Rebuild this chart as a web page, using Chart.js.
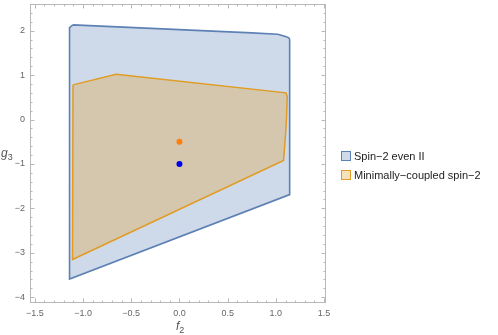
<!DOCTYPE html>
<html><head><meta charset="utf-8">
<script src="https://cdn.jsdelivr.net/npm/chart.js@4.4.0/dist/chart.umd.min.js"></script>
<style>
html,body{margin:0;padding:0;background:#fff;}
#wrap{position:relative;width:498px;height:335px;font-family:"Liberation Sans",Arial,sans-serif;}
canvas{position:absolute;left:0;top:0;}
.lab{position:absolute;font-style:italic;color:#555;font-size:12px;}
.lab sub{font-style:normal;font-size:9px;}
.leg{position:absolute;left:341px;font-size:11px;color:#222;white-space:nowrap;}
.leg span.sw{display:inline-block;width:8px;height:8px;vertical-align:-1px;margin-right:3px;}
</style></head>
<body><div id="wrap">
<canvas id="c" width="498" height="335"></canvas>
<div class="lab" style="left:1px;top:146px;">g<sub>3</sub></div>
<div class="lab" style="left:176px;top:319px;">f<sub>2</sub></div>
<div class="leg" style="top:150px;"><span class="sw" style="background:#cfd9e9;border:1px solid #5e81b5;"></span>Spin−2 even II</div>
<div class="leg" style="top:169px;"><span class="sw" style="background:#f6e1bd;border:1px solid #e19c24;"></span>Minimally−coupled spin−2</div>
</div>
<script>
const seriesNames = ["Spin−2 even II", "Minimally−coupled spin−2"];
const evenIIx = [-1.105, 0.75, 1.02, 1.10, 1.135, 1.143, 1.143, -1.14, -1.14, -1.105];
const evenIIy = [2.13, 1.95, 1.92, 1.87, 1.84, 1.80, -1.69, -3.59, 2.07, 2.13];
const minCoupX = [-1.104, -0.657, 1.105, 1.118, 1.11, 1.10, 1.08, -1.109, -1.104];
const minCoupY = [0.78, 1.02, 0.60, 0.52, 0.0, -0.35, -0.92, -3.15, 0.78];
const pointOrange = {x: 0, y: -0.5};
const pointBlue = {x: 0, y: -1.0};
const xTicks = [-1.5, -1.0, -0.5, 0.0, 0.5, 1.0, 1.5];
const yTicks = [-4, -3, -2, -1, 0, 1, 2];

const zip = (xs, ys) => xs.map((x, i) => ({x, y: ys[i]}));
const fmt = v => String(v).replace('-', '−');

const frameCol = '#b8b8b8';
const framePlugin = {
  id: 'frame',
  afterDraw(chart) {
    const ctx = chart.ctx, a = chart.chartArea;
    const xs = chart.scales.x, ys = chart.scales.y;
    ctx.save();
    ctx.strokeStyle = frameCol; ctx.lineWidth = 1;
    ctx.strokeRect(a.left + 0.5, a.top + 0.5, a.right - a.left - 1, a.bottom - a.top - 1);
    ctx.beginPath();
    for (let i = -15; i <= 15; i++) {
      const v = i / 10;
      const px = Math.round(xs.getPixelForValue(v)) + 0.5;
      if (px < a.left || px > a.right) continue;
      const L = (i % 5 === 0) ? 4.5 : 2.5;
      ctx.moveTo(px, a.bottom); ctx.lineTo(px, a.bottom - L);
      ctx.moveTo(px, a.top); ctx.lineTo(px, a.top + L);
    }
    for (let i = -20; i <= 13; i++) {
      const v = i / 5;
      const py = Math.round(ys.getPixelForValue(v)) + 0.5;
      if (py < a.top || py > a.bottom) continue;
      const L = (i % 5 === 0) ? 4.5 : 2.5;
      ctx.moveTo(a.left, py); ctx.lineTo(a.left + L, py);
      ctx.moveTo(a.right, py); ctx.lineTo(a.right - L, py);
    }
    ctx.stroke();
    ctx.restore();
  }
};

new Chart(document.getElementById('c'), {
  type: 'scatter',
  data: {
    datasets: [
      {label: 'pt1', data: [pointOrange], backgroundColor: '#ff7f0e', borderColor: '#ff7f0e', pointRadius: 3, pointBorderWidth: 0, showLine: false},
      {label: 'pt2', data: [pointBlue], backgroundColor: '#0000ee', borderColor: '#0000ee', pointRadius: 3, pointBorderWidth: 0, showLine: false},
      {label: seriesNames[1], data: zip(minCoupX, minCoupY), showLine: true, fill: 'shape',
       backgroundColor: 'rgba(225,156,36,0.3)', borderColor: '#e19c24', borderWidth: 1.5, pointRadius: 0, tension: 0},
      {label: seriesNames[0], data: zip(evenIIx, evenIIy), showLine: true, fill: 'shape',
       backgroundColor: 'rgba(94,129,181,0.3)', borderColor: '#5e81b5', borderWidth: 1.6, pointRadius: 0, tension: 0}
    ]
  },
  options: {
    responsive: false, animation: false,
    layout: {padding: {left: 0, top: 3, right: 172, bottom: 0}},
    plugins: {legend: {display: false}, tooltip: {enabled: false}},
    scales: {
      x: {
        type: 'linear', min: -1.55, max: 1.52,
        grid: {display: false, drawTicks: false}, border: {display: false},
        afterFit: s => { s.height = 32; s.paddingLeft = 0; s.paddingRight = 0; },
        afterBuildTicks: s => { s.ticks = xTicks.map(v => ({value: v})); },
        ticks: {padding: 5, color: '#666', font: {size: 9, family: 'Liberation Sans'}, callback: v => fmt(v.toFixed(1))}
      },
      y: {
        type: 'linear', min: -4.13, max: 2.6,
        grid: {display: false, drawTicks: false}, border: {display: false},
        afterFit: s => { s.width = 30; s.paddingTop = 0; s.paddingBottom = 0; },
        afterBuildTicks: s => { s.ticks = yTicks.map(v => ({value: v})); },
        ticks: {padding: 5, color: '#666', font: {size: 9, family: 'Liberation Sans'}, callback: v => fmt(v)}
      }
    }
  },
  plugins: [framePlugin]
});
</script>
</body></html>
